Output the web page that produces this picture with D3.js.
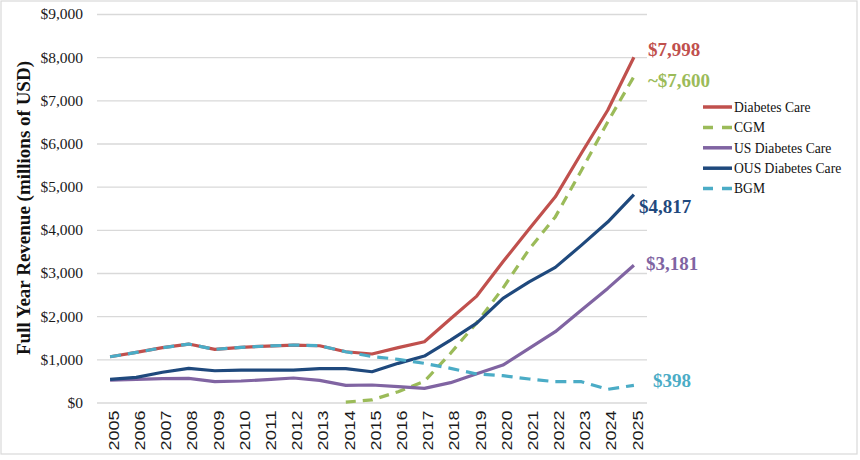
<!DOCTYPE html>
<html>
<head>
<meta charset="utf-8">
<script src="https://cdn.jsdelivr.net/npm/d3@7"></script>
<style>
  body { margin: 0; background: #fff; }
  svg { display: block; }
</style>
</head>
<body>
<script>
// data (millions of USD)
const years = [2005, 2006, 2007, 2008, 2009, 2010, 2011, 2012, 2013, 2014, 2015,
  2016, 2017, 2018, 2019, 2020, 2021, 2022, 2023, 2024, 2025]
const diabetesCare = [1060, 1160, 1270, 1354, 1230, 1278, 1308, 1331, 1315, 1176, 1123,
  1270, 1408, 1940, 2465, 3260, 4020, 4764, 5780, 6771, 7998]
const cgm = [null, null, null, null, null, null, null, null, null, 10, 60,
  250, 490, 1140, 1850, 2650, 3550, 4300, 5382, 6500, 7550]
const usDiabetesCare = [520, 536, 551, 560, 482, 498, 529, 567, 514, 398, 405,
  366, 328, 459, 668, 868, 1254, 1640, 2141, 2643, 3181]
const ousDiabetesCare = [536, 583, 700, 791, 736, 752, 752, 752, 783, 783, 713,
  907, 1076, 1447, 1840, 2412, 2796, 3130, 3646, 4180, 4817]
const bgm = [1060, 1160, 1270, 1354, 1230, 1278, 1308, 1331, 1315, 1176, 1065,
  1000, 907, 791, 660, 621, 544, 482, 482, 305, 398]
const yTicks = [0, 1000, 2000, 3000, 4000, 5000, 6000, 7000, 8000, 9000]
const endLabels = ['$7,998', '~$7,600', '$3,181', '$4,817', '$398']

const seriesNames = ['Diabetes Care', 'CGM', 'US Diabetes Care', 'OUS Diabetes Care', 'BGM']
const seriesValues = [diabetesCare, cgm, usDiabetesCare, ousDiabetesCare, bgm]
const colors = ['#c0504d', '#9bbb59', '#8064a2', '#1f497d', '#4bacc6']
const dashes = [null, '10,7', null, null, '11,7']
// end label offsets from the last point [dx, dy]
const labelOffsets = [[14, -1], [14, 10], [12, 5], [5, 18], [19, 2]]

const w = 860
const h = 460
const serif = '"Liberation Serif", "Times New Roman", serif'

const svg = d3.select('body')
  .append('svg')
  .attr('width', w)
  .attr('height', h)

// frame
svg.append('rect')
  .attr('x', 1)
  .attr('y', 1)
  .attr('width', 856)
  .attr('height', 453)
  .style('fill', '#fff')
  .style('stroke', '#d9d9d9')
  .style('stroke-width', 1.2)

const x = d3.scalePoint()
  .domain(years)
  .range([97, 647])
  .padding(0.5)

const y = d3.scaleLinear()
  .domain([0, 9000])
  .range([402.5, 14])

// y axis + gridlines
const yAxis = svg.append('g')
  .attr('transform', 'translate(97,0)')
  .call(d3.axisLeft(y)
    .tickValues(yTicks)
    .tickFormat(d3.format('$,'))
    .tickSize(-550)
    .tickPadding(14))
yAxis.select('.domain').remove()
yAxis.selectAll('line')
  .style('stroke', '#d9d9d9')
  .style('stroke-width', 1.3)
yAxis.selectAll('text')
  .style('font-family', serif)
  .style('font-size', '15.5px')
  .style('fill', '#1a1a1a')

// x axis labels
const xAxis = svg.append('g')
  .attr('transform', 'translate(0,402.5)')
  .call(d3.axisBottom(x).tickSize(0))
xAxis.select('.domain').remove()
xAxis.selectAll('text')
  .attr('transform', 'rotate(-90)')
  .attr('x', -8)
  .attr('y', 0)
  .attr('dy', '0.55em')
  .attr('text-anchor', 'end')
  .attr('textLength', 40)
  .attr('lengthAdjust', 'spacingAndGlyphs')
  .style('font-family', '"Liberation Sans", Arial, sans-serif')
  .style('font-size', '15px')
  .style('fill', '#1a1a1a')

// y axis title
svg.append('text')
  .attr('transform', 'translate(30,208) rotate(-90)')
  .attr('text-anchor', 'middle')
  .style('font-family', serif)
  .style('font-weight', 'bold')
  .style('font-size', '19px')
  .style('fill', '#111')
  .text('Full Year Revenue (millions of USD)')

// lines
const line = d3.line()
  .defined(d => d != null)
  .x((d, i) => x(years[i]))
  .y(d => y(d))

for (let i = 0; i < seriesValues.length; i++) {
  svg.append('path')
    .datum(seriesValues[i])
    .attr('d', line)
    .style('fill', 'none')
    .style('stroke', colors[i])
    .style('stroke-width', 3.2)
    .style('stroke-linejoin', 'round')
    .style('stroke-dasharray', dashes[i])
}

// end-of-line value labels
for (let i = 0; i < seriesValues.length; i++) {
  const last = seriesValues[i][seriesValues[i].length - 1]
  svg.append('text')
    .attr('x', x(years[years.length - 1]) + labelOffsets[i][0])
    .attr('y', y(last) + labelOffsets[i][1])
    .style('font-family', serif)
    .style('font-weight', 'bold')
    .style('font-size', '19px')
    .style('fill', colors[i])
    .text(endLabels[i])
}

// legend
const legend = svg.append('g')
  .attr('transform', 'translate(703,107)')
for (let i = 0; i < seriesNames.length; i++) {
  const row = legend.append('g')
    .attr('transform', `translate(0,${i * 20.4})`)
  row.append('line')
    .attr('x1', 0)
    .attr('x2', 29)
    .style('stroke', colors[i])
    .style('stroke-width', 3.5)
    .style('stroke-dasharray', dashes[i] ? '10,9' : null)
  row.append('text')
    .attr('x', 31)
    .attr('dy', '0.35em')
    .style('font-family', serif)
    .style('font-size', '13.6px')
    .style('fill', '#111')
    .text(seriesNames[i])
}
</script>
</body>
</html>
